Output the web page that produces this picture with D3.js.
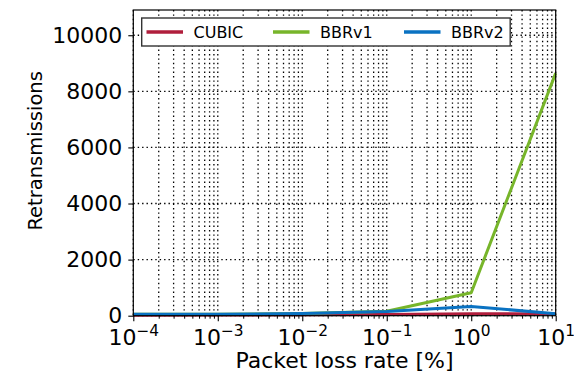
<!DOCTYPE html>
<html>
<head>
<meta charset="utf-8">
<script src="https://cdn.jsdelivr.net/npm/d3@7"></script>
<style>
  html, body { margin: 0; padding: 0; background: #fff; }
  svg { display: block; }
  text { font-family: "DejaVu Sans", sans-serif; fill: #000; }
</style>
</head>
<body>
<svg id="chart" width="574" height="378"></svg>
<script>
// Packet loss rates (%) and retransmission counts per congestion control
const lossRates = [1e-4, 1e-3, 1e-2, 1e-1, 1, 10];
const cubic = [20, 22, 30, 45, 70, 60];
const bbrv1 = [50, 55, 75, 160, 820, 8650];
const bbrv2 = [50, 55, 75, 150, 330, 70];

const seriesNames = ["CUBIC", "BBRv1", "BBRv2"];
const seriesColors = ["#b01e3c", "#77b52a", "#0a72c2"];
const yTicks = [0, 2000, 4000, 6000, 8000, 10000];
const xDecades = [-4, -3, -2, -1, 0, 1];

const W = 574, H = 378;
const m = { left: 133.3, right: W - 555.7, top: 10, bottom: H - 315.7 };
const iw = W - m.left - m.right, ih = H - m.top - m.bottom;

const svg = d3.select("#chart");
const g = svg.append("g").attr("transform", `translate(${m.left},${m.top})`);

const x = d3.scaleLog().domain([1e-4, 10]).range([0, iw]);
const y = d3.scaleLinear().domain([0, 10900]).range([ih, 0]);

// Minor positions: 2..9 within each decade
const minorVals = [];
xDecades.slice(0, -1).forEach(d => {
  for (let k = 2; k <= 9; k++) minorVals.push(k * Math.pow(10, d));
});
const majorVals = xDecades.map(d => Math.pow(10, d));

// Dotted grid
const grid = g.append("g").attr("class", "grid")
  .attr("stroke", "#000").attr("stroke-width", 1.3)
  .attr("stroke-dasharray", "1.4,3").attr("fill", "none");
grid.selectAll("line.vx").data(majorVals.concat(minorVals)).join("line")
  .attr("class", "vx")
  .attr("x1", d => x(d)).attr("x2", d => x(d))
  .attr("y1", 0).attr("y2", ih);
grid.selectAll("line.hy").data(yTicks).join("line")
  .attr("class", "hy")
  .attr("x1", 0).attr("x2", iw)
  .attr("y1", d => y(d)).attr("y2", d => y(d));

// Series lines
const allSeries = [cubic, bbrv1, bbrv2];
const line = d3.line().x((d, i) => x(lossRates[i])).y(d => y(d));
allSeries.forEach((vals, si) => {
  g.append("path").datum(vals)
    .attr("fill", "none")
    .attr("stroke", seriesColors[si])
    .attr("stroke-width", 3)
    .attr("stroke-linejoin", "round")
    .attr("d", line);
});

// Frame
g.append("rect").attr("x", 0).attr("y", 0).attr("width", iw).attr("height", ih)
  .attr("fill", "none").attr("stroke", "#000").attr("stroke-width", 1.2);

// Y axis
const yAxis = g.append("g").call(d3.axisLeft(y).tickValues(yTicks).tickSize(5).tickPadding(6).tickFormat(d3.format("d")));
yAxis.select(".domain").remove();
yAxis.selectAll("text").style("font-size", "22px").style("font-family", "DejaVu Sans");
yAxis.selectAll(".tick line").attr("stroke-width", 1.1);

// X axis: major ticks and minor ticks
const xMinor = g.append("g").attr("transform", `translate(0,${ih})`)
  .call(d3.axisBottom(x).tickValues(minorVals).tickSize(3).tickFormat(""));
xMinor.select(".domain").remove();
xMinor.selectAll(".tick line").attr("stroke-width", 1);

const xAxis = g.append("g").attr("transform", `translate(0,${ih})`)
  .call(d3.axisBottom(x).tickValues(majorVals).tickSize(5.5).tickFormat(""));
xAxis.select(".domain").remove();
xAxis.selectAll(".tick line").attr("stroke-width", 1.1);

// Power-of-ten tick labels
xAxis.selectAll(".tick").each(function (d) {
  const e = Math.round(Math.log10(d));
  const t = d3.select(this).append("text")
    .attr("y", 29.5).attr("text-anchor", "middle")
    .style("font-size", "22px");
  t.append("tspan").text("10");
  t.append("tspan").attr("dy", -9).style("font-size", "15.4px")
    .text(e < 0 ? "\u2212" + Math.abs(e) : String(e));
});

// Axis titles
svg.append("text")
  .attr("x", m.left + iw / 2).attr("y", 368)
  .attr("text-anchor", "middle").style("font-size", "22px")
  .text("Packet loss rate [%]");
svg.append("text")
  .attr("transform", `translate(42,${m.top + ih / 2 - 12}) rotate(-90)`)
  .attr("text-anchor", "middle").style("font-size", "19.5px")
  .text("Retransmissions");

// Legend
const lg = svg.append("g");
lg.append("rect").attr("x", 141.7).attr("y", 18).attr("width", 368.5).attr("height", 28)
  .attr("fill", "#fff").attr("stroke", "#333").attr("stroke-width", 1.4);
const legendX = [146.5, 273, 404];
seriesNames.forEach((name, i) => {
  lg.append("line")
    .attr("x1", legendX[i]).attr("x2", legendX[i] + 36.5)
    .attr("y1", 32).attr("y2", 32)
    .attr("stroke", seriesColors[i]).attr("stroke-width", 3.5);
  lg.append("text")
    .attr("x", legendX[i] + 47).attr("y", 37.5)
    .style("font-size", "16px")
    .text(name);
});
</script>
</body>
</html>
